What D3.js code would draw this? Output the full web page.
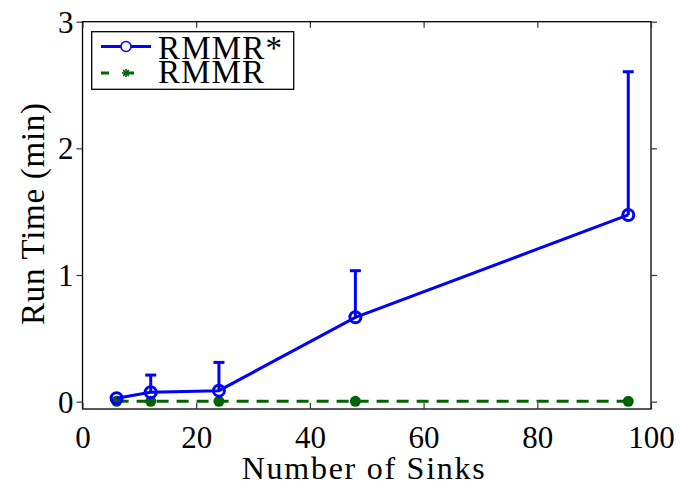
<!DOCTYPE html>
<html><head><meta charset="utf-8">
<script src="https://cdn.jsdelivr.net/npm/d3@7"></script>
<style>body{margin:0;background:#fff}svg{display:block}text{font-family:"Liberation Serif","DejaVu Serif",serif;fill:#000}</style>
</head><body><svg id="c" width="680" height="488"></svg>
<script>
const sinks = [6, 12, 24, 48, 96];
const rmmrStar = [0.027, 0.074, 0.087, 0.666, 1.474];
const rmmrStarErr = [0.027, 0.21, 0.31, 1.034, 2.605];
const rmmr = [0.003, 0.003, 0.003, 0.003, 0.003];
const xTicks = [0, 20, 40, 60, 80, 100];
const yTicks = [0, 1, 2, 3];
const seriesNames = ["RMMR*", "RMMR"];

const svg = d3.select("#c");
const x = d3.scaleLinear().domain([0, 100]).range([82.5, 651]);
const y = d3.scaleLinear().domain([-0.058, 3]).range([409, 21.7]);
const blue = "#0000ff", green = "#006400";
const FF = '"Liberation Serif",serif';

// box
svg.append("rect").attr("x", x(0)).attr("y", y(3)).attr("width", x(100)-x(0)).attr("height", y(-0.058)-y(3))
  .attr("fill", "none").attr("stroke", "#000").attr("stroke-width", 1.3);

// axes
const gx = svg.append("g").attr("transform", `translate(0,${y(-0.058)})`)
  .call(d3.axisBottom(x).tickValues(xTicks).tickFormat(d3.format("d")).tickSizeInner(-6).tickSizeOuter(0));
const gxt = svg.append("g").attr("transform", `translate(0,${y(3)})`)
  .call(d3.axisTop(x).tickValues(xTicks).tickSizeInner(-6).tickSizeOuter(0).tickFormat(""));
const gy = svg.append("g").attr("transform", `translate(${x(0)},0)`)
  .call(d3.axisLeft(y).tickValues(yTicks).tickFormat(d3.format("d")).tickSizeInner(6).tickSizeOuter(0));
const gyr = svg.append("g").attr("transform", `translate(${x(100)},0)`)
  .call(d3.axisRight(y).tickValues(yTicks).tickSizeInner(6).tickSizeOuter(0).tickFormat(""));
[gx, gxt, gy, gyr].forEach(g => { g.select(".domain").remove(); g.selectAll("line").attr("stroke", "#333").attr("stroke-width", 1.2); });
gx.selectAll("text").attr("font-size", 31).style("font-family", FF).attr("y", 39).attr("dy", 0);
gy.selectAll("text").attr("font-size", 31).style("font-family", FF).attr("x", -9).attr("dy", "0.34em");

// labels
svg.append("text").attr("x", 241.7).attr("y", 479).attr("font-size", 32)
  .attr("textLength", 243).attr("lengthAdjust", "spacing").text("Number of Sinks");
svg.append("text").attr("transform", "translate(44,325) rotate(-90)").attr("font-size", 33)
  .attr("textLength", 222).attr("lengthAdjust", "spacing").text("Run Time (min)");

// RMMR (green dashed)
const line = d3.line().x((d, i) => x(sinks[i])).y(d => y(d));
svg.append("path").datum(rmmr).attr("d", line).attr("fill", "none").attr("stroke", green)
  .attr("stroke-width", 3).attr("stroke-dasharray", "12,8");
svg.selectAll(".gdot").data(rmmr).enter().append("circle")
  .attr("cx", (d, i) => x(sinks[i])).attr("cy", d => y(d)).attr("r", 5.5).attr("fill", green);

// RMMR* error bars
sinks.forEach((s, i) => {
  if (rmmrStarErr[i] - rmmrStar[i] < 0.01) return;
  svg.append("line").attr("x1", x(s)).attr("x2", x(s)).attr("y1", y(rmmrStar[i])).attr("y2", y(rmmrStarErr[i]))
    .attr("stroke", blue).attr("stroke-width", 3);
  svg.append("line").attr("x1", x(s) - 5.5).attr("x2", x(s) + 5.5).attr("y1", y(rmmrStarErr[i])).attr("y2", y(rmmrStarErr[i]))
    .attr("stroke", blue).attr("stroke-width", 3);
});
svg.append("path").datum(rmmrStar).attr("d", line).attr("fill", "none").attr("stroke", blue).attr("stroke-width", 3);
svg.selectAll(".bdot").data(rmmrStar).enter().append("circle")
  .attr("cx", (d, i) => x(sinks[i])).attr("cy", d => y(d)).attr("r", 5.5).attr("fill", "none")
  .attr("stroke", blue).attr("stroke-width", 3);

// legend
const lg = svg.append("g");
lg.append("rect").attr("x", 91.7).attr("y", 31.7).attr("width", 202).attr("height", 57.6)
  .attr("fill", "#fff").attr("stroke", "#000").attr("stroke-width", 1.3);
lg.append("line").attr("x1", 101).attr("x2", 151).attr("y1", 46.5).attr("y2", 46.5).attr("stroke", blue).attr("stroke-width", 3);
lg.append("circle").attr("cx", 126).attr("cy", 46.5).attr("r", 5).attr("fill", "#fff").attr("stroke", blue).attr("stroke-width", 1.5);
lg.append("line").attr("x1", 101).attr("x2", 151).attr("y1", 73).attr("y2", 73).attr("stroke", green).attr("stroke-width", 3).attr("stroke-dasharray", "8,17");
[0, 45, 90, 135].forEach(a => {
  const r = 4, t = a * Math.PI / 180;
  lg.append("line").attr("x1", 126 - r * Math.cos(t)).attr("x2", 126 + r * Math.cos(t))
    .attr("y1", 73 - r * Math.sin(t)).attr("y2", 73 + r * Math.sin(t)).attr("stroke", green).attr("stroke-width", 1.6);
});
const lw = [124, 106];
lg.selectAll(".lt").data(seriesNames).enter().append("text").attr("x", 158).attr("y", (d, i) => 59.3 + i * 24)
  .attr("font-size", 33).attr("textLength", (d, i) => lw[i]).attr("lengthAdjust", "spacing").text(d => d);
</script></body></html>
